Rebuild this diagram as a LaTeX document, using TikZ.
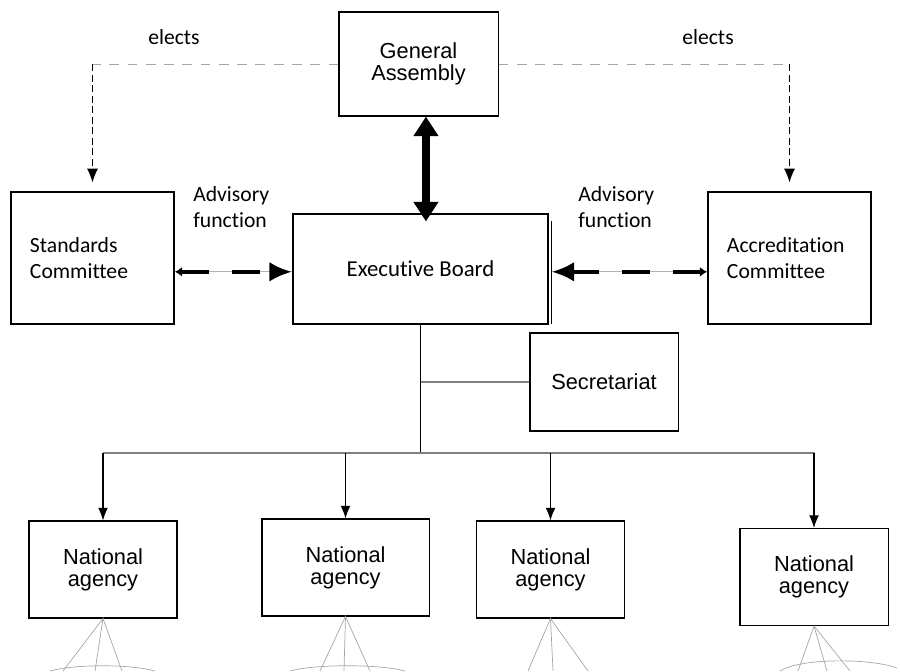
\documentclass[tikz,border=0pt]{standalone}
\usepackage{fontspec}
\setmainfont{Carlito}[Ligatures={NoCommon}]
\newfontfamily\arialfont{Liberation Sans}
\usetikzlibrary{arrows.meta}

\begin{document}
\begin{tikzpicture}[x=0.025cm,y=-0.025cm,
  combox/.style={draw,line width=1.4pt,minimum height=3.3cm,text width=3.125cm,
    inner xsep=0.475cm,align=left,font=\fontsize{15.4}{19}\selectfont},
  thinbox/.style={draw,line width=0.75pt,align=center,
    font=\arialfont\fontsize{15.5}{15.6}\selectfont},
  agency/.style={thinbox,minimum width=3.7cm,minimum height=2.425cm},
  lbl/.style={inner sep=0,align=left,font=\fontsize{15.4}{19}\selectfont},
  elect/.style={line width=1pt,dash pattern=on 5pt off 2.5pt,-{Latex[length=10pt,width=8pt]}},
  advise/.style={line width=3pt,dash pattern=on 20pt off 16pt},
  down/.style={line width=0.8pt,-{Latex[length=9pt,width=7pt]}},
  twig/.style={gray!70,line width=0.5pt}]
\useasboundingbox (0,0) rectangle (900,671);

% top row
\node[thinbox,minimum width=3.975cm,minimum height=2.6cm] (ga) at (418.5,64) {General\\Assembly};
\node[combox] (std) at (92.5,258) {Standards\\Committee};
\node[combox] (acc) at (789.5,258) {Accreditation\\Committee};
\node[draw,line width=1.4pt,minimum width=6.375cm,minimum height=2.75cm,
  font=\fontsize{16.2}{19}\selectfont] (exec) at (420.5,269) {Executive Board};
\draw[line width=0.6pt] ([xshift=1.8pt,yshift=-6pt]exec.north east) -- ([xshift=1.8pt,yshift=1pt]exec.south east);

\node[lbl] (electL) at (174,37) {elects};
\node[lbl] (electR) at (708,37) {elects};
\node[lbl,anchor=west] (advL) at (193,207) {Advisory\\function};
\node[lbl,anchor=west] (advR) at (578,207) {Advisory\\function};

% elects
\coordinate (cornL) at (std.north |- ga.west);
\coordinate (cornR) at (acc.north |- ga.east);
\draw[gray!70,line width=0.7pt,dash pattern=on 7pt off 6pt] (ga.west) -- (cornL);
\draw[gray!70,line width=0.7pt,dash pattern=on 7pt off 6pt] (ga.east) -- (cornR);
\draw[elect,shorten >=6pt] (cornL) -- (std.north);
\draw[elect,shorten >=6pt] (cornR) -- (acc.north);

% assembly <-> board
\draw[line width=5.5pt,{Triangle[length=14pt,width=17pt]}-{Triangle[length=14pt,width=17pt]}]
  ([xshift=5.3pt]ga.south) -- ([xshift=5.3pt,yshift=-6pt]ga.south |- exec.north);

% advisory function
\coordinate (advS) at ([yshift=-2pt]std.east |- exec.west);
\coordinate (advA) at ([yshift=-2pt]acc.west |- exec.west);
\coordinate (advE) at ([yshift=-2pt]exec.west);
\coordinate (advF) at ([xshift=1.8pt,yshift=-2pt]exec.east);
\draw[gray!60,line width=0.6pt] (advS) -- (advE);
\draw[gray!60,line width=0.6pt] (advA) -- (advF);
\draw[advise,{Latex[length=5pt,width=7pt]}-{Latex[length=16pt,width=14pt]}] (advS) -- (advE);
\draw[advise,{Latex[length=5pt,width=7pt]}-{Latex[length=16pt,width=14pt]}] (advA) -- (advF);

% secretariat and agencies
\node[thinbox,minimum width=3.7cm,minimum height=2.45cm] (sec) at (604,382) {Secretariat};
\node[agency] (na1) at (103,569.5) {National\\agency};
\node[agency,minimum width=4.175cm] (na2) at (345.5,567.5) {National\\agency};
\node[agency] (na3) at (550.5,569.5) {National\\agency};
\node[agency] (na4) at (814,577) {National\\agency};

\coordinate (busL) at (103,453);
\coordinate (busR) at (815,453);
\draw[line width=0.8pt] (exec.south) -- (exec.south |- busL);
\draw[gray,line width=0.8pt] (sec.west) -- (sec.west -| exec.south);
\draw[gray,line width=0.9pt] (busL) -- (busR);
\foreach \n in {na1,na2,na3,na4}
  \draw[down] (\n.north |- busL) -- (\n.north);

% subtrees below the agencies
\foreach \n/\a/\b/\c in {na1/63/95/122,na2/320/344/370,na3/528/553/588,na4/798/827/850}{
  \draw[twig] (\a,671) -- (\n.south) -- (\b,671);
  \draw[twig] (\n.south) -- (\c,671);
}
\draw[twig] (50,671) .. controls (75,664) and (130,664) .. (155,671);
\draw[twig] (290,671) .. controls (315,664) and (380,664) .. (405,671);
\draw[twig] (780,671) .. controls (800,658) and (870,658) .. (897,668);
\end{tikzpicture}
\end{document}
